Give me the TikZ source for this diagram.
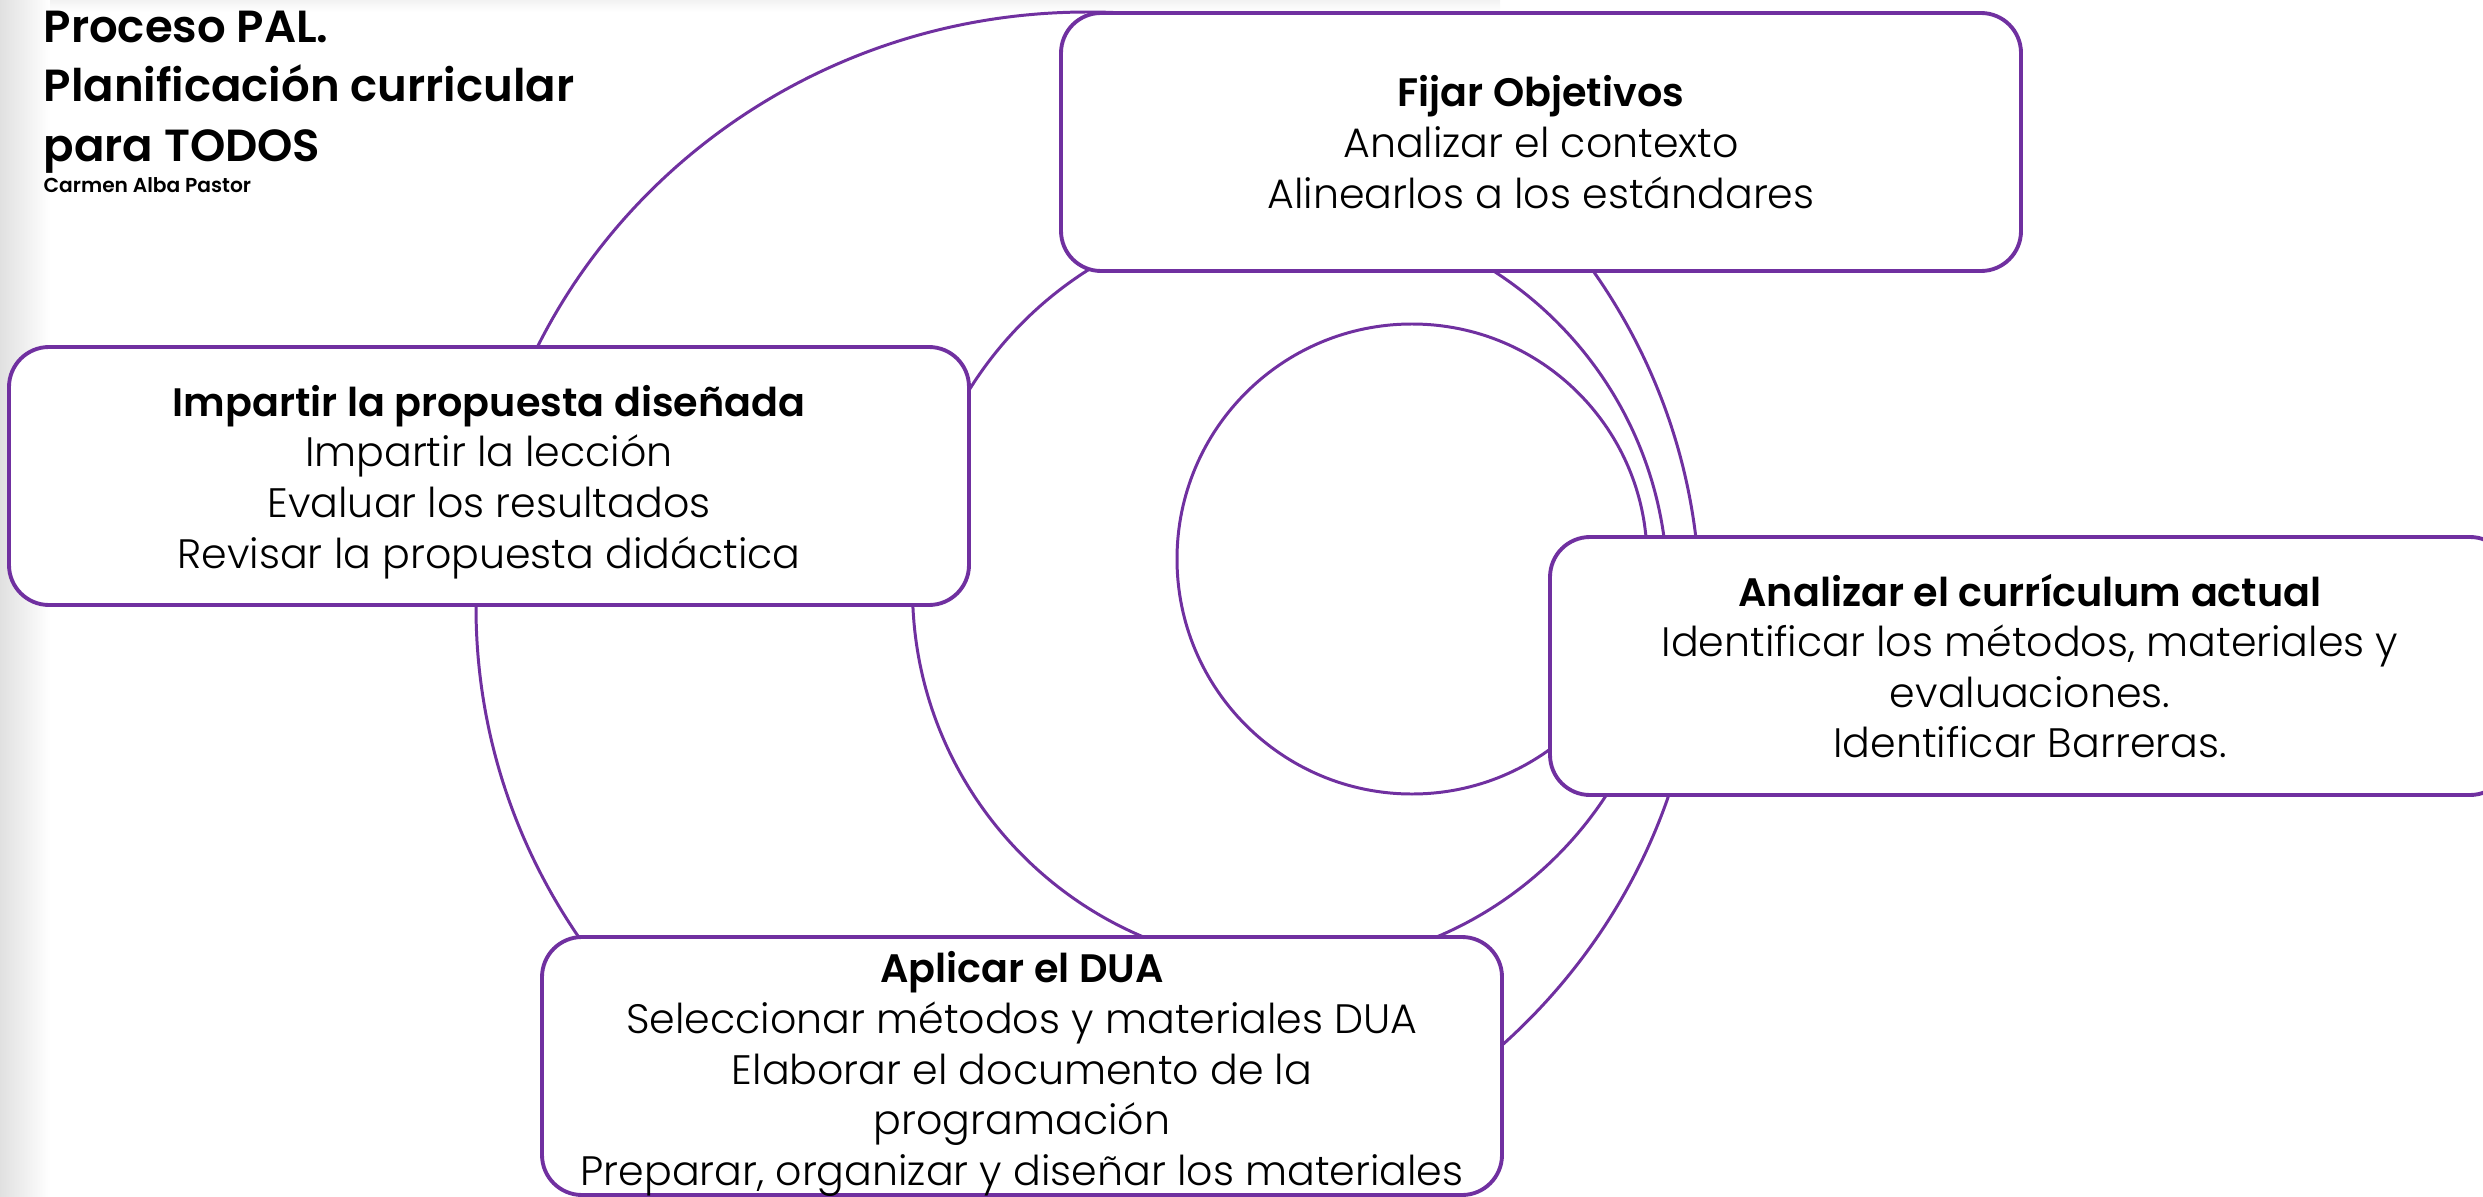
\documentclass[tikz,border=0pt]{standalone}
\usepackage{fontspec}
\setmainfont{Poppins}[UprightFont=* Light, BoldFont=* SemiBold]
\definecolor{morado}{HTML}{7030A0}
\newcommand{\cabeza}[1]{{\bfseries\fontsize{11.3}{14.4}\selectfont #1}}

\begin{document}
\begin{tikzpicture}[
    x=0.1mm, y=-0.1mm,
    etapa/.style={rectangle, draw=morado, line width=1.1pt, fill=white, rounded corners=4mm, minimum width=96mm, minimum height=25.8mm},
    texto/.style={align=center, inner sep=0pt, font=\fontsize{11.7}{14.4}\selectfont},
    arco/.style={draw=morado, line width=0.85pt},
    titulo/.style={anchor=north west, align=left, inner sep=0pt, font=\bfseries\fontsize{12.8}{17}\selectfont},
    autor/.style={anchor=north west, inner sep=0pt, font=\bfseries\fontsize{5.75}{7}\selectfont}
]
\useasboundingbox (0,0) rectangle (2483,1197);
\clip (0,0) rectangle (2483,1197);

% fondo
\shade[left color=black!12, right color=white] (0,0) rectangle (50,1197);
\shade[top color=black!5, bottom color=white] (50,0) rectangle (1500,12);

% arcos del ciclo
\draw[arco] (1088,607) ellipse [x radius=612, y radius=595];
\draw[arco] (1290,589) circle [radius=377.5];
\draw[arco] (1412,559) circle [radius=235];

% etapas
\node[etapa] (fijar) at (1541,142) {};
\node[etapa] (impartir) at (489,476) {};
\node[etapa] (analizar) at (2030,666) {};
\node[etapa] (aplicar) at (1022,1066) {};

\node[texto] (fijar txt) at (fijar.center) {\cabeza{Fijar Objetivos}\\Analizar el contexto\\Alinearlos a los estándares};
\node[texto] (impartir txt) at ([yshift=-0.6mm]impartir.center) {\cabeza{Impartir la propuesta diseñada}\\Impartir la lección\\Evaluar los resultados\\Revisar la propuesta didáctica};
\node[texto] (analizar txt) at (analizar.center) {\cabeza{Analizar el currículum actual}\\Identificar los métodos, materiales y\\evaluaciones.\\Identificar Barreras.};
\node[texto] (aplicar txt) at ([yshift=-0.8mm]aplicar.center) {\cabeza{Aplicar el DUA}\\Seleccionar métodos y materiales DUA\\Elaborar el documento de la\\programación\\Preparar, organizar y diseñar los materiales};

% titulo
\node[titulo] (titulo) at (43,10) {Proceso PAL.\\Planificación curricular\\para TODOS};
\node[autor] (autor) at (43,177) {Carmen Alba Pastor};
\end{tikzpicture}
\end{document}
